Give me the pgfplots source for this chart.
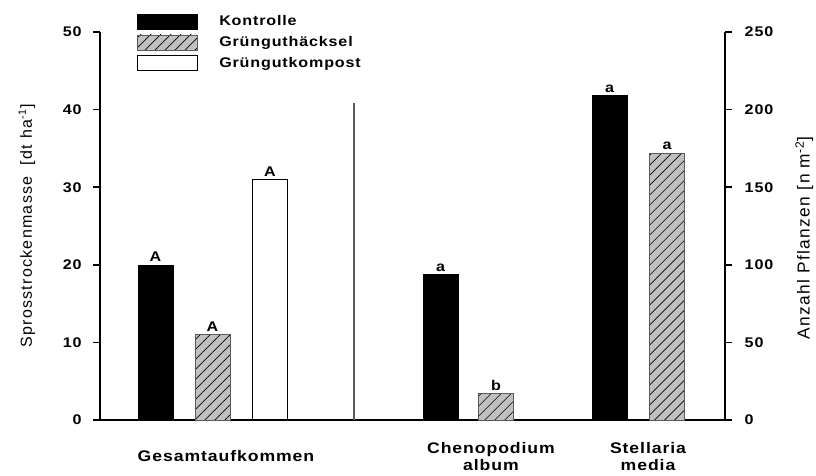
\documentclass[border=0pt]{standalone}
\usepackage{pgfplots}
\pgfplotsset{compat=1.18}
\usetikzlibrary{patterns.meta}
\usepackage{fontspec}
\setmainfont{Liberation Sans}
\newfontfamily\spaced[LetterSpace=8]{Liberation Sans}
\newfontfamily\wide[FakeStretch=1.15, LetterSpace=6]{Liberation Sans}

\definecolor{hatchgray}{RGB}{192,192,192}
\definecolor{edgegray}{RGB}{90,90,90}
\tikzset{hatched/.style={fill=hatchgray, draw=edgegray,
    postaction={pattern={Lines[angle=45,distance=5.3pt,line width=0.5pt]}}}}

% 1 px of the reference = 0.75pt, plot box 625 x 388 px
\pgfplotsset{
  common/.style={
    scale only axis, width=468.75pt, height=291pt,
    xmin=100, xmax=725, ymin=0,
    ybar, bar width=35, bar shift=0pt,
    clip=false,
    tick align=outside, major tick length=5.25pt,
    tick style={line width=1.2pt, black},
    axis line style={line width=1.8pt},
    /pgf/number format/assume math mode=true,
    tick label style={font=\fontsize{10.5}{14.25}\selectfont\bfseries\wide},
    every node near coord/.append style={font=\fontsize{10.5}{12}\selectfont\bfseries\wide, inner sep=2pt},
  },
  lab/.style={nodes near coords, point meta=explicit symbolic},
}

\begin{document}
\begin{tikzpicture}
\useasboundingbox (-75pt,-41.25pt) rectangle (537pt,315pt);
\begin{axis}[common,
    axis x line*=bottom, axis y line*=left,
    ymax=50, ytick={0,10,...,50},
    yticklabel style={xshift=-5pt},
    xtick={226,491,648},
    xticklabels={Gesamtaufkommen,{Chenopodium\\album},{Stellaria\\media}},
    xticklabel style={align=center, anchor=center, yshift=-22pt,
        font=\fontsize{11.5}{13}\selectfont\bfseries\wide},
    xtick style={draw=none},
    ylabel={Sprosstrockenmasse~ [dt ha\textsuperscript{-1}]},
    ylabel style={at={(axis description cs:-0.117,0.5)}, anchor=center,
        font=\fontsize{12}{14}\selectfont\spaced},
    legend style={draw=none, fill=none, inner sep=0pt, outer sep=0pt,
        at={(axis description cs:0.059,1.049)}, anchor=north west,
        font=\fontsize{10.5}{12}\selectfont\bfseries\wide,
        row sep=2.4pt, cells={anchor=west}},
    legend image code/.code={\draw[#1] (0pt,-5.6pt) rectangle (45pt,5.6pt); \path (59pt,0pt);},
]
\addplot[fill=black, draw=black, lab] coordinates {(155.5,20) [A]};
\addplot[hatched, lab] coordinates {(212.5,11) [A]};
\addplot[fill=white, draw=black, line width=0.8pt, lab] coordinates {(270,31) [A]};
\addplot[sharp plot, forget plot, draw=edgegray, line width=0.8pt] coordinates {(354,0) (354,40.85)};
\legend{Kontrolle, Grünguthäcksel, Grüngutkompost}
\end{axis}
\begin{axis}[common,
    axis x line=none, axis y line*=right,
    ymax=250, ytick={0,50,...,250},
    yticklabel style={xshift=6pt},
    ylabel={Anzahl Pflanzen [n m\textsuperscript{-2}]},
    ylabel style={at={(axis description cs:1.127,0.469)}, anchor=center, rotate=0,
        font=\fontsize{13}{15}\selectfont\spaced},
]
\addplot[fill=black, draw=black, lab] coordinates {(440.5,94) [a] (609.5,209) [a]};
\addplot[hatched, lab] coordinates {(496,17) [b] (667,172) [a]};
\end{axis}
\end{tikzpicture}
\end{document}
